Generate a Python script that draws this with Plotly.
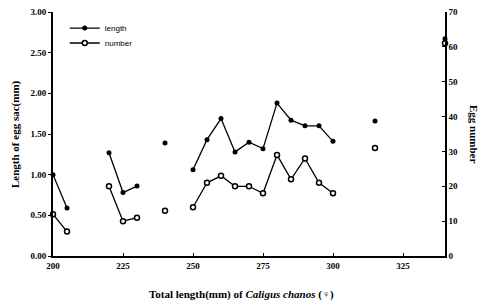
import plotly.graph_objects as go

# Data (None = break between measured groups)
total_length = [200, 205, None, 220, 225, 230, None, 240, None,
                250, 255, 260, 265, 270, 275, 280, 285, 290, 295, 300, None,
                315, None, 340]
egg_sac_length = [1.00, 0.59, None, 1.27, 0.78, 0.86, None, 1.39, None,
                  1.06, 1.43, 1.69, 1.28, 1.40, 1.32, 1.88, 1.67, 1.60, 1.60, 1.41, None,
                  1.66, None, 2.67]
egg_number = [12, 7, None, 20, 10, 11, None, 13, None,
              14, 21, 23, 20, 20, 18, 29, 22, 28, 21, 18, None,
              31, None, 61]

x_ticks = [200, 225, 250, 275, 300, 325]
left_ticks = [0, 0.5, 1.0, 1.5, 2.0, 2.5, 3.0]
right_ticks = [0, 10, 20, 30, 40, 50, 60, 70]

FONT = "Liberation Serif"

fig = go.Figure()
fig.add_trace(go.Scatter(
    x=total_length, y=egg_sac_length, name="length", mode="lines+markers",
    line=dict(color="black", width=1.3),
    marker=dict(symbol="circle", size=5, color="black"),
    connectgaps=False, cliponaxis=False, yaxis="y", legend="legend"))
fig.add_trace(go.Scatter(
    x=total_length, y=egg_number, name="number", mode="lines+markers",
    line=dict(color="black", width=1.3),
    marker=dict(symbol="circle", size=5, color="white", line=dict(color="black", width=1.5)),
    connectgaps=False, cliponaxis=False, yaxis="y2", legend="legend2"))

leg_common = dict(xanchor="left", yanchor="middle", bgcolor="rgba(0,0,0,0)",
                  font=dict(size=8, family="Liberation Sans", color="black"), itemwidth=30)

fig.update_layout(
    width=488, height=306,
    margin=dict(l=53, r=43, t=12, b=50, autoexpand=False),
    paper_bgcolor="white", plot_bgcolor="white",
    font=dict(family=FONT, size=9, color="black"),
    showlegend=True,
    legend=dict(x=0.03, y=0.934, **leg_common),
    legend2=dict(x=0.03, y=0.873, **leg_common),
    xaxis=dict(range=[200, 340], tickvals=x_ticks, ticktext=[str(v) for v in x_ticks],
               showgrid=False, zeroline=False, showline=True, linecolor="black", linewidth=1.5,
               ticks="inside", ticklen=3, tickcolor="black",
               tickfont=dict(family=FONT, size=9, weight="bold", color="black")),
    yaxis=dict(range=[0, 3], tickvals=left_ticks, ticktext=[f"{v:.2f}" for v in left_ticks],
               showgrid=False, zeroline=False, showline=True, linecolor="black", linewidth=2,
               ticks="outside", ticklen=3, tickcolor="black",
               tickfont=dict(family=FONT, size=9, weight="bold", color="black")),
    yaxis2=dict(range=[0, 70], tickvals=right_ticks, ticktext=[str(v) for v in right_ticks],
                overlaying="y", side="right",
                showgrid=False, zeroline=False, showline=True, linecolor="black", linewidth=1.5,
                ticks="inside", ticklen=3, tickcolor="black",
                tickfont=dict(family=FONT, size=9, weight="bold", color="black")),
    annotations=[
        dict(text="Total length(mm) of <i>Caligus chanos</i> (♀)", xref="paper", yref="paper",
             x=0.48, y=0, yshift=-30, xanchor="center", yanchor="top", showarrow=False,
             font=dict(family=FONT, size=11, weight="bold", color="black")),
        dict(text="Length of egg sac(mm)", xref="paper", yref="paper",
             x=0, xshift=-38, y=0.5, xanchor="center", yanchor="middle", textangle=-90, showarrow=False,
             font=dict(family=FONT, size=11, weight="bold", color="black")),
        dict(text="Egg number", xref="paper", yref="paper",
             x=1, xshift=29, y=0.5, xanchor="center", yanchor="middle", textangle=90, showarrow=False,
             font=dict(family=FONT, size=11, weight="bold", color="black")),
    ],
)

fig.write_html("out.html", config={"displayModeBar": False},
               post_script="document.body.style.margin='0px';")
